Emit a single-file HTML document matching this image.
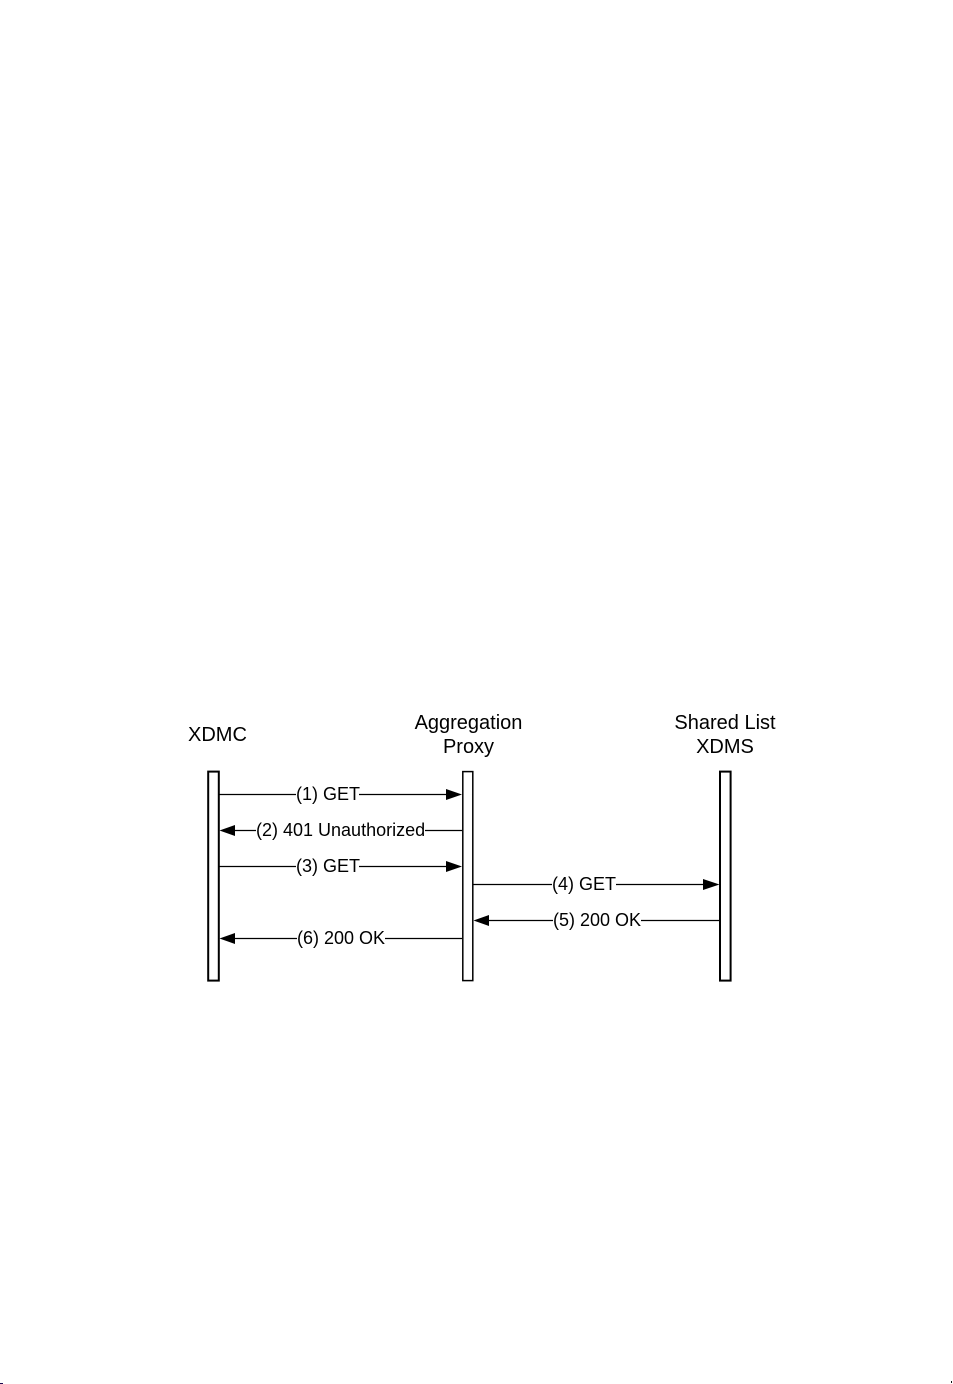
<!DOCTYPE html>
<html>
<head>
<meta charset="utf-8">
<style>
html,body{margin:0;padding:0;background:#fff;}
svg{display:block;}
text{font-family:"Liberation Sans",sans-serif;fill:#000;}
</style>
</head>
<body>
<svg width="953" height="1384" viewBox="0 0 953 1384" xmlns="http://www.w3.org/2000/svg">
<rect width="953" height="1384" fill="#fff"/>
<g fill="#fff" stroke="#000">
<rect x="208.2" y="771.6" width="10.6" height="209" stroke-width="2"/>
<rect x="462.8" y="771.6" width="10" height="209" stroke-width="1.5"/>
<rect x="720" y="771.6" width="10.6" height="209" stroke-width="2"/>
</g>
<g stroke="#000" stroke-width="1.2" fill="none">
<path d="M219 794.5H296M359 794.5H448"/>
<path d="M233 830.5H256M425 830.5H462"/>
<path d="M219 866.5H296M359 866.5H448"/>
<path d="M473 884.5H552M616 884.5H704"/>
<path d="M488 920.5H553M641 920.5H719"/>
<path d="M233 938.5H297M385 938.5H462"/>
</g>
<g fill="#000">
<path d="M446 789L462 794.5L446 800Z"/>
<path d="M235 825L219.500 830.500L235 836Z"/>
<path d="M446 861L462 866.500L446 872Z"/>
<path d="M703 879L719.500 884.500L703 890Z"/>
<path d="M489 915L473.500 920.500L489 926Z"/>
<path d="M235 933L219.500 938.500L235 944Z"/>
</g>
<g font-size="20">
<text x="188" y="741">XDMC</text>
<text x="468.500" y="729" text-anchor="middle">Aggregation</text>
<text x="468.500" y="753" text-anchor="middle">Proxy</text>
<text x="725" y="729" text-anchor="middle">Shared List</text>
<text x="725" y="753" text-anchor="middle">XDMS</text>
</g>
<g font-size="18">
<text x="296" y="800">(1) GET</text>
<text x="256" y="836">(2) 401 Unauthorized</text>
<text x="296" y="872">(3) GET</text>
<text x="552" y="890">(4) GET</text>
<text x="553" y="926">(5) 200 OK</text>
<text x="297" y="944">(6) 200 OK</text>
</g>
<rect x="0" y="1383" width="3" height="1" fill="#1a0a50"/>
<rect x="951" y="1381" width="1" height="2" fill="#111"/>
</svg>
</body>
</html>
